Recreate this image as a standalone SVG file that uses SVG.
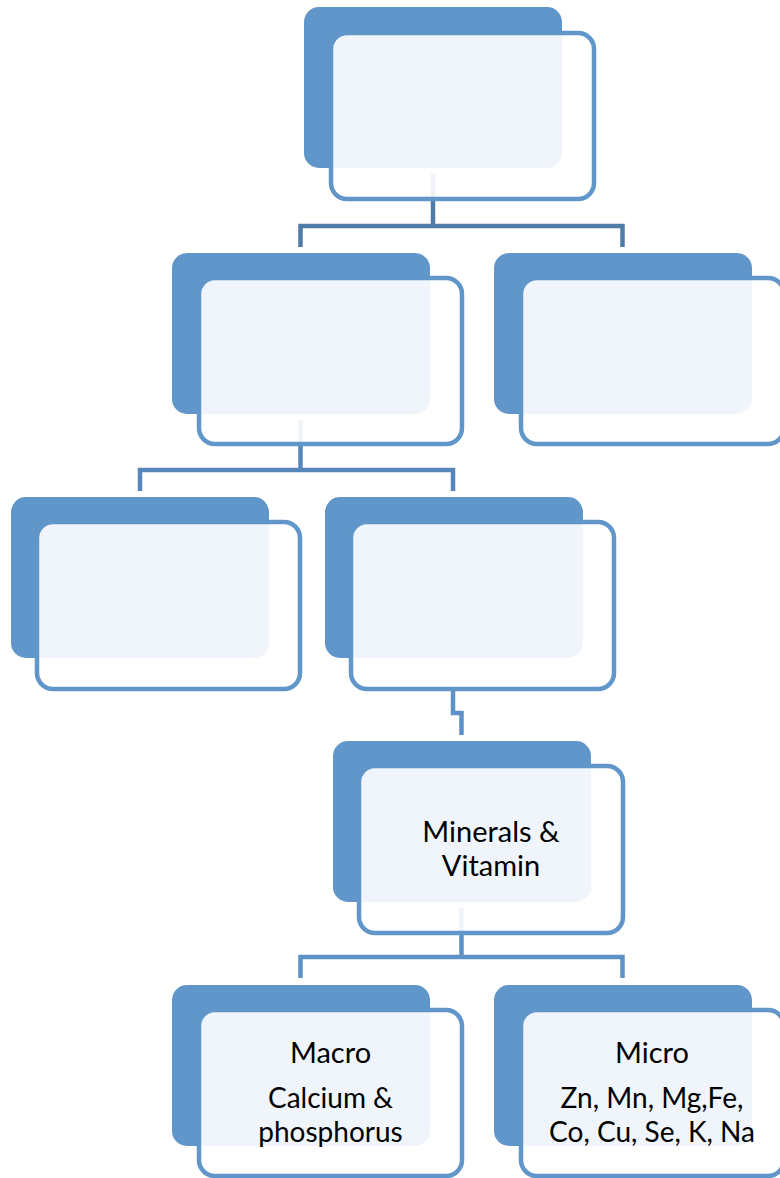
<svg xmlns="http://www.w3.org/2000/svg" width="780" height="1178" viewBox="0 0 780 1178">
<style>
.back{fill:#6096C9}
.front{fill:#ffffff;fill-opacity:0.9;stroke:#6096C9;stroke-width:4.5}
.conn{fill:none;stroke-width:4.5;stroke-linejoin:miter;stroke-linecap:butt}
.c1{stroke:#4F7BA8}
.c2{stroke:#5787BA}
.c3{stroke:#5E92C6}
text{font-family:Lato,"Open Sans","Liberation Sans",sans-serif;font-size:29px;fill:#000;text-anchor:middle}
text.s{font-size:28px}
</style>
<rect width="780" height="1178" fill="#ffffff"/>
<g id="connectors">
<path class="conn c1" d="M433,174 V226 M300.5,247 V226 H622.5 V247"/>
<path class="conn c2" d="M300.5,420 V470 M140,491 V470 H453 V491"/>
<path class="conn c3" d="M453,690 V713 H461.5 V735"/>
<path class="conn c3" d="M461.5,908 V957 M300.5,978 V957 H622.5 V978"/>
</g>
<g id="node1">
<rect class="back" x="304" y="7" width="258" height="161" rx="15"/>
<rect class="front" x="331" y="33" width="263" height="166" rx="16"/>
</g>
<g id="node2">
<rect class="back" x="172" y="253" width="258" height="161" rx="15"/>
<rect class="front" x="199" y="278" width="263" height="166" rx="16"/>
</g>
<g id="node3">
<rect class="back" x="494" y="253" width="258" height="161" rx="15"/>
<rect class="front" x="521" y="278" width="263" height="166" rx="16"/>
</g>
<g id="node4">
<rect class="back" x="11" y="497" width="258" height="161" rx="15"/>
<rect class="front" x="37" y="522" width="263" height="167" rx="16"/>
</g>
<g id="node5">
<rect class="back" x="325" y="497" width="258" height="161" rx="15"/>
<rect class="front" x="351" y="522" width="263" height="167" rx="16"/>
</g>
<g id="node6">
<rect class="back" x="333" y="741" width="258" height="161" rx="15"/>
<rect class="front" x="359" y="766" width="264" height="167" rx="16"/>
<text x="491" y="842">Minerals &amp;</text>
<text x="491" y="876">Vitamin</text>
</g>
<g id="node7">
<rect class="back" x="172" y="985" width="258" height="161" rx="15"/>
<rect class="front" x="199" y="1010" width="263" height="166" rx="16"/>
<text x="330.5" y="1063">Macro</text>
<text class="s" x="330.5" y="1108">Calcium &amp;</text>
<text class="s" x="330.5" y="1142">phosphorus</text>
</g>
<g id="node8">
<rect class="back" x="494" y="985" width="258" height="161" rx="15"/>
<rect class="front" x="521" y="1010" width="263" height="166" rx="16"/>
<text x="652" y="1063">Micro</text>
<text class="s" x="652" y="1108">Zn, Mn, Mg,Fe,</text>
<text class="s" x="652" y="1142">Co, Cu, Se, K, Na</text>
</g>
</svg>
